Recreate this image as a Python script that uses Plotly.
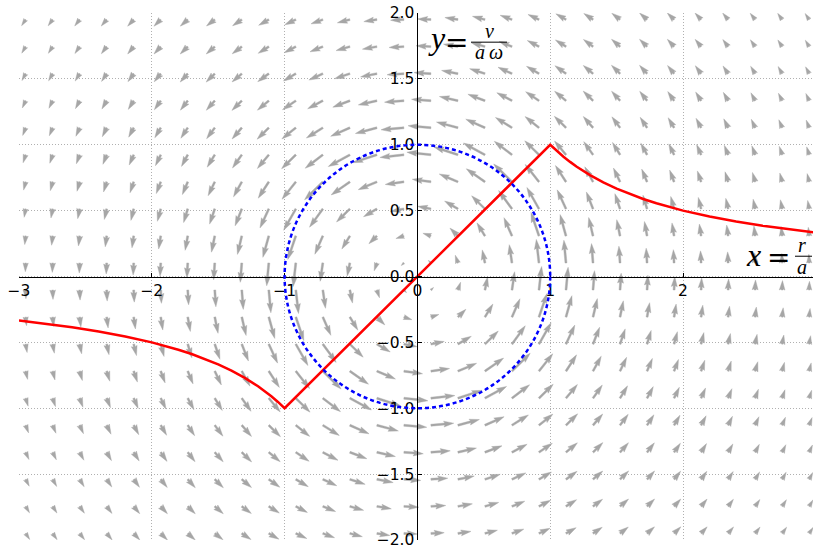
import numpy as np
import plotly.graph_objects as go

# ---------------- data ----------------
x_tick_vals = [-3, -2, -1, 0, 1, 2, 3]
x_tick_text = ["\u22123", "\u22122", "\u22121", "0", "1", "2", ""]
y_tick_vals = [-2.0, -1.5, -1.0, -0.5, 0.0, 0.5, 1.0, 1.5, 2.0]
y_tick_text = ["\u22122.0", "\u22121.5", "\u22121.0", "\u22120.5", "0.0", "0.5", "1.0", "1.5", "2.0"]

# red velocity profile y = v/(a w) versus x = r/a
curve_x = [-3.0, -2.8, -2.6, -2.4, -2.2, -2.0, -1.9, -1.8, -1.7, -1.6, -1.5, -1.4, -1.3, -1.2, -1.15, -1.1, -1.05, -1.0,
           1.0, 1.05, 1.1, 1.15, 1.2, 1.3, 1.4, 1.5, 1.6, 1.7, 1.8, 1.9, 2.0, 2.2, 2.4, 2.6, 2.8, 3.0]
curve_y = [-0.333, -0.357, -0.385, -0.417, -0.455, -0.5, -0.526, -0.556, -0.588, -0.625, -0.667, -0.714, -0.769,
           -0.833, -0.870, -0.909, -0.952, -1.0,
           1.0, 0.952, 0.909, 0.870, 0.833, 0.769, 0.714, 0.667, 0.625, 0.588, 0.556, 0.526, 0.5,
           0.455, 0.417, 0.385, 0.357, 0.333]

# speed profile used for the arrow field (radius -> speed)
profile_r = [0.0, 1.0, 1.1, 1.2, 1.35, 1.5, 1.75, 2.0, 2.5, 3.0, 3.6]
profile_speed = [0.0, 1.0, 0.909, 0.833, 0.741, 0.667, 0.571, 0.5, 0.4, 0.333, 0.278]

# arrow sample positions
field_x = list(np.linspace(-2.95, 2.95, 30))
field_y = list(np.linspace(-1.95, 1.95, 20))

circle_radius = 1.0

# ---------------- layout geometry ----------------
W_FIG, H_FIG = 813, 549
M_L, M_R, M_T, M_B = 19, 0, 13, 3
plot_w = W_FIG - M_L - M_R
plot_h = H_FIG - M_T - M_B
px_per_x = 132.8
x_range = [-3, -3 + plot_w / px_per_x]
y_range = [-2, 2]
px_per_y = plot_h / (y_range[1] - y_range[0])
Y_SHIFT = 3  # rendered offset between requested and observed rows

def dx(px):
    return x_range[0] + (px - M_L) / px_per_x

def dy(py):
    return y_range[1] - (py + Y_SHIFT - M_T) / px_per_y

# ---------------- arrows (matplotlib-like quiver polygons) ----------------
SHAFT = 2.0      # px
HL, HAL, HW = 5.0, 4.5, 3.0
SCALE = 26.0     # px per unit speed
gray = "#a6a6a6"

ax_list, ay_list = [], []
for yy in field_y:
    for xx in field_x:
        r = float(np.hypot(xx, yy))
        s = float(np.interp(r, profile_r, profile_speed))
        L = s * SCALE / SHAFT
        ux, uy = -yy / r, xx / r
        if L >= HL:
            X = [0, L - HAL, L - HL, L, L - HL, L - HAL, 0, 0]
            Y = [0.5, 0.5, HW / 2, 0, -HW / 2, -0.5, -0.5, 0.5]
        else:
            k = L / HL
            X = [0, (HL - HAL) * k, 0, HL * k, 0, (HL - HAL) * k, 0, 0]
            Y = [0.5 * k, 0.5 * k, HW / 2 * k, 0, -HW / 2 * k, -0.5 * k, -0.5 * k, 0.5 * k]
        for a, b in zip(X, Y):
            pxv = (a * ux - b * uy) * SHAFT
            pyv = (a * uy + b * ux) * SHAFT
            ax_list.append(xx + pxv / px_per_x)
            ay_list.append(yy + pyv / px_per_y)
        ax_list.append(None)
        ay_list.append(None)

fig = go.Figure()
fig.add_trace(go.Scatter(x=ax_list, y=ay_list, mode="lines", fill="toself",
                         fillcolor=gray, line=dict(color=gray, width=0.4),
                         hoverinfo="skip", showlegend=False))
fig.add_trace(go.Scatter(x=curve_x, y=curve_y, mode="lines",
                         line=dict(color="#ff0000", width=2.5),
                         hoverinfo="skip", showlegend=False))

fig.add_shape(type="circle", xref="x", yref="y",
              x0=-circle_radius, y0=-circle_radius, x1=circle_radius, y1=circle_radius,
              line=dict(color="#0000ff", width=2.5, dash="4px,3px"), layer="above")

# ---------------- math-like labels ----------------
serif = "Liberation Serif"
eqfont = "DejaVu Serif"
ann = []
def label(px, py, text, size, family=serif, xanchor="center"):
    ann.append(dict(x=dx(px), y=dy(py), text=text, xanchor=xanchor, yanchor="middle",
                    xref="x", yref="y", showarrow=False,
                    font=dict(family=family, size=size, color="black")))

def bar(px0, px1, py):
    fig.add_shape(type="line", xref="x", yref="y", x0=dx(px0), x1=dx(px1), y0=dy(py), y1=dy(py),
                  line=dict(color="black", width=1), layer="above")

# y = v / (a omega)
label(426, 35, "<i>y</i>", 32, xanchor="left")
label(456, 39.5, "=", 28, family=eqfont)
label(489, 28.5, "<i>v</i>", 20)
label(489, 49.5, "<i>a\u2009\u03c9</i>", 20)
bar(471, 507, 39.5)

# x = r / a
label(744, 255, "<i>x</i>", 32, xanchor="left")
label(778, 257.5, "=", 28, family=eqfont)
label(802, 244.5, "<i>r</i>", 20)
label(802, 266.5, "<i>a</i>", 20)
bar(795, 812, 256)

y0_frac = (0 - x_range[0]) / (x_range[1] - x_range[0])
tickfont = dict(family="DejaVu Sans", size=15.5, color="black")

fig.update_layout(
    width=W_FIG, height=H_FIG,
    margin=dict(l=M_L, r=M_R, t=M_T, b=M_B, pad=0),
    paper_bgcolor="white", plot_bgcolor="white",
    showlegend=False,
    annotations=ann,
    font=dict(family="DejaVu Sans", size=15.5, color="black"),
    xaxis=dict(range=x_range, tickvals=x_tick_vals, ticktext=x_tick_text,
               showgrid=True, gridcolor="#b0b0b0", griddash="1px,2px", gridwidth=1,
               zeroline=False, showline=True, linecolor="black", linewidth=1,
               anchor="free", position=0.5, ticks="inside", ticklen=4,
               tickcolor="black", tickfont=tickfont, ticklabeloverflow="allow"),
    yaxis=dict(range=y_range, tickvals=y_tick_vals, ticktext=y_tick_text,
               showgrid=True, gridcolor="#b0b0b0", griddash="1px,2px", gridwidth=1,
               zeroline=False, showline=True, linecolor="black", linewidth=1,
               anchor="free", position=y0_frac, ticks="inside", ticklen=4,
               tickcolor="black", tickfont=tickfont, ticklabeloverflow="allow"),
)

fig.write_html("out.html", config={"displayModeBar": False},
               post_script="document.body.style.margin='0';document.body.style.overflow='hidden';")
